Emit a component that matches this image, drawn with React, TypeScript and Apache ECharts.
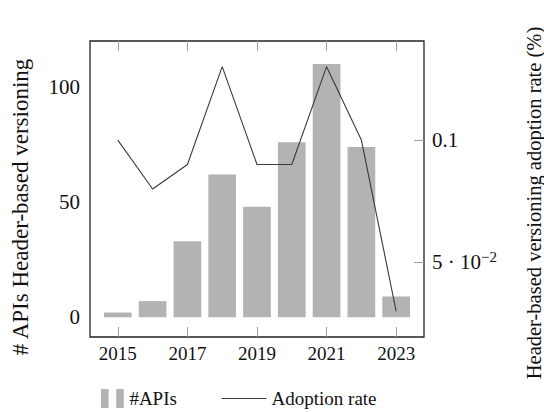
import React, { useEffect, useRef } from "react";
import * as echarts from "echarts";

const years = [2015, 2016, 2017, 2018, 2019, 2020, 2021, 2022, 2023];
const apiCounts = [2, 7, 33, 62, 48, 76, 110, 74, 9];
const adoptionRate = [0.1, 0.08, 0.09, 0.13, 0.09, 0.09, 0.13, 0.1, 0.03];
const xTickLabels = [2015, 2017, 2019, 2021, 2023];
const leftTicks = [0, 50, 100];
const rightTicks = [0.05, 0.1];

const FONT = "Liberation Serif";

export default function App() {
  const ref = useRef<HTMLDivElement>(null);
  useEffect(() => {
    if (!ref.current) return;
    const chart = echarts.init(ref.current, null, { renderer: "svg" });
    const tickStyle = { show: true, inside: true, length: 10, lineStyle: { color: "#a0a0a0", width: 1 } };
    const serif = (size: number) => ({ fontFamily: FONT, fontSize: size, color: "#111" });
    chart.setOption({
      animation: false,
      textStyle: { fontFamily: FONT },
      grid: {
        left: 90,
        right: 120,
        top: 41,
        bottom: 75,
        show: true,
        borderColor: "#222",
        borderWidth: 1.3,
        backgroundColor: "transparent",
      },
      legend: [
        {
          top: 384,
          left: 96,
          itemWidth: 24,
          itemHeight: 19,
          itemGap: 0,
          formatter: (name: string) => "{t|" + name + "}",
          textStyle: { ...serif(19), rich: { t: serif(19) } },
          data: [
            {
              name: "#APIs",
              icon: "path://M0 0H8V20H0Z M16 0H24V20H16Z",
              itemStyle: { color: "#b3b3b3" },
            },
          ],
        },
        {
          top: 384,
          left: 216,
          itemWidth: 45,
          itemHeight: 19,
          formatter: (name: string) => "{t|" + name + "}",
          textStyle: { ...serif(19), rich: { t: serif(19) } },
          data: [
            {
              name: "Adoption rate",
              itemStyle: { color: "transparent", borderWidth: 0, borderColor: "transparent" },
              lineStyle: { color: "#3a3a3a", width: 1.1 },
            },
          ],
        },
      ],
      xAxis: [
        {
          type: "value",
          min: 2014.2,
          max: 2023.8,
          position: "bottom",
          axisLine: { show: false, onZero: false },
          splitLine: { show: false },
          axisTick: { ...tickStyle, customValues: xTickLabels },
          axisLabel: {
            customValues: xTickLabels,
            ...serif(19),
            margin: 7,
            formatter: (v: number) => "{t|" + String(v) + "}",
            rich: { t: serif(19) },
          },
        },
        {
          type: "value",
          min: 2014.2,
          max: 2023.8,
          position: "top",
          axisLine: { show: false, onZero: false },
          splitLine: { show: false },
          axisTick: { ...tickStyle, customValues: xTickLabels },
          axisLabel: { show: false },
        },
      ],
      yAxis: [
        {
          type: "value",
          min: -8.6,
          max: 120,
          position: "left",
          axisLine: { show: false, onZero: false },
          splitLine: { show: false },
          axisTick: { show: false },
          axisLabel: {
            customValues: leftTicks,
            ...serif(21),
            margin: 10,
            formatter: (v: number) => "{t|" + String(v) + "}",
            rich: { t: serif(21) },
          },
        },
        {
          type: "value",
          min: 0.0195,
          max: 0.1405,
          position: "right",
          axisLine: { show: false, onZero: false },
          splitLine: { show: false },
          axisTick: { ...tickStyle, customValues: rightTicks },
          axisLabel: {
            customValues: rightTicks,
            ...serif(21),
            margin: 8,
            formatter: (v: number) => (Math.abs(v - 0.05) < 1e-9 ? "{t|5 · 10}{sup|−2}" : "{t|0.1}"),
            rich: {
              t: serif(21),
              sup: { ...serif(15), padding: [0, 0, 10, 0] },
            },
          },
        },
      ],
      series: [
        {
          name: "#APIs",
          type: "bar",
          xAxisIndex: 0,
          yAxisIndex: 0,
          barWidth: 27.7,
          itemStyle: { color: "#b3b3b3" },
          data: years.map((y, i) => [y, apiCounts[i]]),
        },
        {
          name: "Adoption rate",
          type: "line",
          xAxisIndex: 0,
          yAxisIndex: 1,
          symbol: "none",
          lineStyle: { color: "#3a3a3a", width: 1.1 },
          itemStyle: { color: "#3a3a3a" },
          data: years.map((y, i) => [y, adoptionRate[i]]),
        },
      ],
      graphic: [
        {
          type: "text",
          x: 20,
          y: 207,
          rotation: Math.PI / 2,
          style: {
            text: "# APIs Header-based versioning",
            fontFamily: FONT,
            fontSize: 23,
            fill: "#111",
            align: "center",
            verticalAlign: "middle",
          },
        },
        {
          type: "text",
          x: 534,
          y: 203,
          rotation: Math.PI / 2,
          style: {
            text: "Header-based versioning adoption rate (%)",
            fontFamily: FONT,
            fontSize: 20.5,
            fill: "#111",
            align: "center",
            verticalAlign: "middle",
          },
        },
      ],
    });
    return () => chart.dispose();
  }, []);
  return <div ref={ref} style={{ width: 544, height: 412, position: "absolute", left: 0, top: 0 }} />;
}
